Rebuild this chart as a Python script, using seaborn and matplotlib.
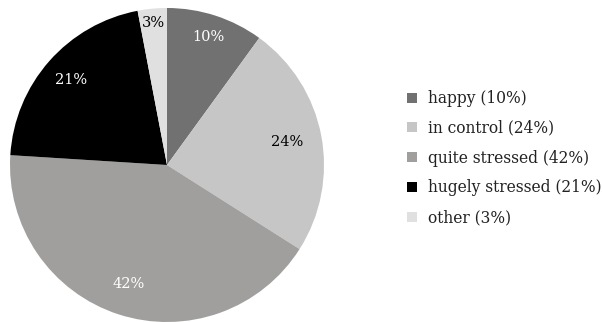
import matplotlib
matplotlib.use("Agg")
import matplotlib.pyplot as plt
from matplotlib.lines import Line2D
import numpy as np
import seaborn as sns

categories = ["happy", "in control", "quite stressed", "hugely stressed", "other"]
shares = [10, 24, 42, 21, 3]
colors = ["#717171", "#c6c6c6", "#a09f9e", "#000000", "#e0e0e0"]
label_colors = ["white", "black", "white", "white", "black"]
label_dist = [0.86, 0.78, 0.80, 0.815, 0.91]

sns.set_theme(style="white")
plt.rcParams["font.family"] = ["DejaVu Serif"]

W, H = 602, 322
fig = plt.figure(figsize=(W / 100, H / 100), dpi=100)
fig.patch.set_facecolor("white")

cx, cy, r = 167, 165, 157
ax = fig.add_axes([(cx - r) / W, (H - cy - r) / H, 2 * r / W, 2 * r / H])
ax.set_facecolor("none")

wedges, _ = ax.pie(shares, colors=colors, startangle=90, counterclock=False,
                   radius=1, wedgeprops=dict(linewidth=0))
ax.set_xlim(-1, 1)
ax.set_ylim(-1, 1)
ax.set_aspect("equal")
ax.axis("off")

total = sum(shares)
for w, v, c, d in zip(wedges, shares, label_colors, label_dist):
    mid = np.deg2rad((w.theta1 + w.theta2) / 2)
    ax.text(d * np.cos(mid), d * np.sin(mid), f"{round(100 * v / total)}%",
            ha="center", va="center", color=c, fontsize=10.5)

handles = [Line2D([], [], marker="s", linestyle="none", markersize=7.3,
                  markerfacecolor=col, markeredgewidth=0)
           for col in colors]
labels = [f"{name} ({v}%)" for name, v in zip(categories, shares)]
fig.legend(handles, labels, loc="upper left",
           bbox_to_anchor=(406 / W, 1 - 90 / H), frameon=False,
           fontsize=11.2, handlelength=0.75, handletextpad=0.65,
           labelspacing=0.82, borderpad=0, borderaxespad=0,
           labelcolor="#222222")

fig.savefig("out.png", dpi=100, facecolor="white")
